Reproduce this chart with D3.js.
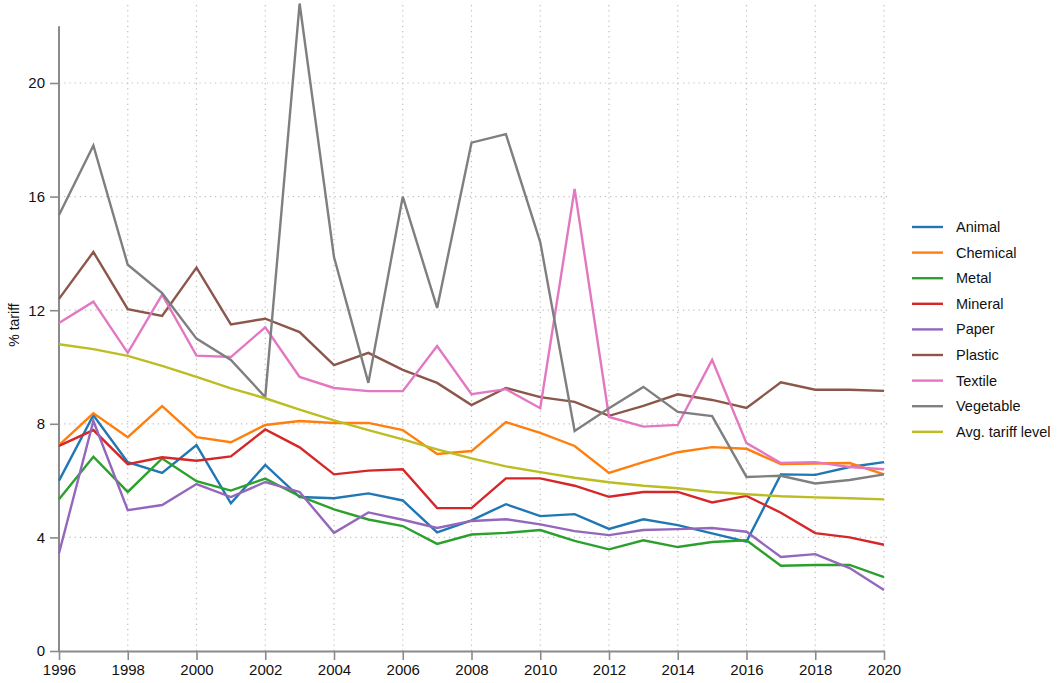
<!DOCTYPE html>
<html>
<head>
<meta charset="utf-8">
<script src="https://cdn.jsdelivr.net/npm/d3@7"></script>
<style>
  body { margin: 0; background: #fff; }
  svg text { font-family: Helvetica, Arial, "Liberation Sans", sans-serif; }
  .grid line { stroke: #bdbdbd; stroke-width: 1.2; stroke-dasharray: 1.2 4; }
  .series { fill: none; stroke-width: 2.4; stroke-linejoin: miter; }
</style>
</head>
<body>
<svg id="chart" width="1060" height="683"></svg>
<script>
// Years on the x axis
const years = d3.range(1996, 2021);

// Tariffs by product group (% tariff)
const animal    = [6.0, 8.3, 6.65, 6.27, 7.25, 5.2, 6.55, 5.42, 5.38, 5.55, 5.3, 4.18, 4.6, 5.17, 4.75, 4.82, 4.3, 4.64, 4.43, 4.14, 3.85, 6.22, 6.2, 6.48, 6.65];
const chemical  = [7.25, 8.37, 7.53, 8.62, 7.53, 7.35, 7.96, 8.1, 8.03, 8.03, 7.78, 6.94, 7.04, 8.06, 7.68, 7.22, 6.27, 6.65, 7.0, 7.18, 7.12, 6.58, 6.6, 6.62, 6.22];
const metal     = [5.34, 6.84, 5.6, 6.78, 5.98, 5.65, 6.07, 5.45, 4.99, 4.63, 4.4, 3.77, 4.1, 4.16, 4.26, 3.88, 3.58, 3.9, 3.66, 3.84, 3.9, 3.0, 3.03, 3.03, 2.6];
const mineral   = [7.22, 7.78, 6.58, 6.82, 6.7, 6.85, 7.8, 7.17, 6.22, 6.35, 6.4, 5.03, 5.03, 6.08, 6.08, 5.82, 5.43, 5.6, 5.6, 5.23, 5.46, 4.87, 4.15, 4.0, 3.74];
const paper     = [3.44, 8.1, 4.96, 5.14, 5.88, 5.42, 5.95, 5.6, 4.16, 4.88, 4.62, 4.33, 4.58, 4.64, 4.46, 4.22, 4.08, 4.26, 4.29, 4.33, 4.2, 3.31, 3.41, 2.92, 2.15];
const plastic   = [12.4, 14.05, 12.04, 11.8, 13.5, 11.5, 11.7, 11.23, 10.07, 10.5, 9.9, 9.44, 8.66, 9.26, 8.94, 8.77, 8.28, 8.63, 9.04, 8.84, 8.56, 9.46, 9.2, 9.2, 9.16];
const textile   = [11.55, 12.3, 10.5, 12.55, 10.4, 10.35, 11.4, 9.65, 9.26, 9.15, 9.15, 10.74, 9.04, 9.22, 8.55, 16.27, 8.24, 7.9, 7.96, 10.25, 7.32, 6.62, 6.65, 6.48, 6.4];
const vegetable = [15.35, 17.8, 13.6, 12.6, 11.0, 10.25, 8.94, 22.8, 13.87, 9.44, 16.0, 12.08, 17.9, 18.2, 14.4, 7.75, 8.55, 9.3, 8.42, 8.27, 6.13, 6.17, 5.9, 6.02, 6.22];
const avgTariff = [10.8, 10.63, 10.39, 10.04, 9.65, 9.25, 8.9, 8.5, 8.12, 7.78, 7.45, 7.1, 6.78, 6.5, 6.3, 6.1, 5.94, 5.82, 5.73, 5.6, 5.52, 5.45, 5.41, 5.38, 5.34];

const seriesNames = ["Animal", "Chemical", "Metal", "Mineral", "Paper", "Plastic", "Textile", "Vegetable", "Avg. tariff level"];
const seriesColors = ["#1f77b4", "#ff7f0e", "#2ca02c", "#d62728", "#9467bd", "#8c564b", "#e377c2", "#7f7f7f", "#bcbd22"];
const seriesValues = [animal, chemical, metal, mineral, paper, plastic, textile, vegetable, avgTariff];

const xTicks = d3.range(1996, 2021, 2);
const yTicks = [0, 4, 8, 12, 16, 20];

const svg = d3.select("#chart");

// Plot area
const plot = {left: 59, right: 884, top: 5, bottom: 651};

const x = d3.scaleLinear().domain([1996, 2020]).range([plot.left, plot.right]);
const y = d3.scaleLinear().domain([0, 4]).range([plot.bottom, plot.bottom - 113.6]);

// Dotted grid
const grid = svg.append("g").attr("class", "grid");
grid.selectAll(".vg")
    .data(xTicks.filter(d => d !== 1996))
    .enter()
    .append("line")
    .attr("x1", d => x(d)).attr("x2", d => x(d))
    .attr("y1", plot.top).attr("y2", plot.bottom);
grid.selectAll(".hg")
    .data(yTicks.filter(d => d !== 0))
    .enter()
    .append("line")
    .attr("x1", plot.left).attr("x2", plot.right + 6)
    .attr("y1", d => y(d)).attr("y2", d => y(d));

// Axes
let yAxis = svg.append("g")
    .attr("transform", `translate(${plot.left},0)`)
    .call(d3.axisLeft(y).tickValues(yTicks).tickFormat(d3.format("d")).tickSize(9).tickPadding(5).tickSizeOuter(0));
let xAxis = svg.append("g")
    .attr("transform", `translate(0,${plot.bottom})`)
    .call(d3.axisBottom(x).tickValues(xTicks).tickFormat(d3.format("d")).tickSize(9).tickPadding(4).tickSizeOuter(0));

// Stretch the y axis line up to 22
yAxis.select(".domain").attr("d", `M0,${y(0)}V${y(22)}`);

[xAxis, yAxis].forEach(ax => {
    ax.attr("font-family", null).attr("font-size", null);
    ax.select(".domain").attr("stroke", "#8a8a8a").attr("stroke-width", 2);
    ax.selectAll(".tick line").attr("stroke", "#8a8a8a").attr("stroke-width", 1.6);
    ax.selectAll("text").attr("fill", "#111").style("font-size", "15px");
});

// Y axis title
svg.append("text")
    .attr("transform", `translate(19,325) rotate(-90)`)
    .attr("text-anchor", "middle")
    .style("font-size", "14px")
    .attr("fill", "#111")
    .text("% tariff");

// Draw the lines
let line = d3.line()
    .x((d, i) => x(years[i]))
    .y(d => y(d));

svg.append("g").selectAll("path")
    .data(seriesValues)
    .enter()
    .append("path")
    .attr("class", "series")
    .attr("stroke", (d, i) => seriesColors[i])
    .attr("d", line);

// Legend
let legend = svg.append("g").attr("transform", "translate(912,227)");
let rows = legend.selectAll("g")
    .data(seriesNames)
    .enter()
    .append("g")
    .attr("transform", (d, i) => `translate(0,${i * 25.6})`);
rows.append("line")
    .attr("x1", 0).attr("x2", 31)
    .attr("stroke", (d, i) => seriesColors[i])
    .attr("stroke-width", 2.4);
rows.append("text")
    .attr("x", 44)
    .attr("dy", "0.35em")
    .style("font-size", "14.5px")
    .attr("fill", "#111")
    .text(d => d);
</script>
</body>
</html>
